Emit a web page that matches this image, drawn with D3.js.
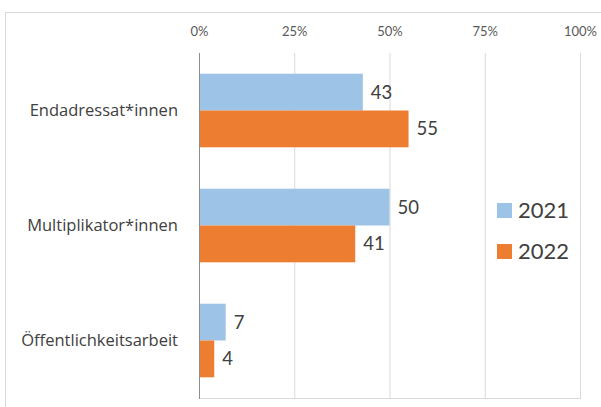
<!DOCTYPE html>
<html>
<head>
<meta charset="utf-8">
<script src="https://cdn.jsdelivr.net/npm/d3@7"></script>
<style>
  body { margin: 0; background: #fff; }
  svg { display: block; font-family: Lato, "Open Sans", sans-serif; }
</style>
</head>
<body>
<svg id="chart" width="601" height="407"></svg>
<script>
// data
var categories = ["Endadressat*innen", "Multiplikator*innen", "Öffentlichkeitsarbeit"];
var years = ["2021", "2022"];
var values2021 = [43, 50, 7];
var values2022 = [55, 41, 4];
var ticks = [0, 25, 50, 75, 100];
var colors = ["#9dc3e6", "#ed7d31"];

var svg = d3.select("#chart");

// chart frame
svg.append("rect")
  .attr("x", 5.5).attr("y", 12.5)
  .attr("width", 610).attr("height", 420)
  .attr("fill", "#fff")
  .attr("stroke", "#d9d9d9");

var plotLeft = 199, plotRight = 580, plotTop = 53, plotBottom = 398;

var x = d3.scaleLinear().domain([0, 100]).range([plotLeft, plotRight]);
var y = d3.scaleBand().domain(categories).range([plotTop, plotBottom]).paddingInner(0.36).paddingOuter(0.18);
var ySub = d3.scaleBand().domain(years).range([0, y.bandwidth()]);

// gridlines
svg.append("g").selectAll("line")
  .data(ticks.slice(1))
  .enter().append("line")
  .attr("x1", d => x(d) + 0.5).attr("x2", d => x(d) + 0.5)
  .attr("y1", plotTop).attr("y2", plotBottom)
  .attr("stroke", "#d9d9d9");

svg.append("line")
  .attr("x1", plotLeft).attr("x2", plotRight + 1)
  .attr("y1", plotBottom + 0.5).attr("y2", plotBottom + 0.5)
  .attr("stroke", "#d9d9d9");

// top axis labels
var xAxis = d3.axisTop(x).tickValues(ticks).tickFormat(d => d + "%").tickSize(0).tickPadding(0);
var ax = svg.append("g").attr("transform", "translate(0,36)").call(xAxis);
ax.select(".domain").remove();
ax.selectAll("text").attr("font-size", 13).attr("fill", "#595959").attr("font-family", "Lato, sans-serif");

// bars
var series = [values2021, values2022];
var groups = svg.append("g").selectAll("g")
  .data(categories)
  .enter().append("g")
  .attr("transform", d => "translate(0," + y(d) + ")");

years.forEach(function(yr, s) {
  groups.append("rect")
    .attr("x", x(0))
    .attr("y", ySub(yr))
    .attr("width", (d, i) => x(series[s][i]) - x(0))
    .attr("height", ySub.bandwidth())
    .attr("fill", colors[s]);

  groups.append("text")
    .attr("x", (d, i) => x(series[s][i]) + 8)
    .attr("y", ySub(yr) + ySub.bandwidth() / 2)
    .attr("dy", "0.35em")
    .attr("font-size", 18.5)
    .attr("fill", "#404040")
    .text((d, i) => series[s][i]);
});

// category axis line
svg.append("line")
  .attr("x1", plotLeft + 0.5).attr("x2", plotLeft + 0.5)
  .attr("y1", plotTop).attr("y2", plotBottom + 1)
  .attr("stroke", "#8c8c8c");

// category labels
svg.append("g").selectAll("text")
  .data(categories)
  .enter().append("text")
  .attr("x", 178)
  .attr("y", d => y(d) + y.bandwidth() / 2)
  .attr("dy", "0.35em")
  .attr("text-anchor", "end")
  .attr("font-size", 16.5)
  .attr("font-family", "'Open Sans', sans-serif")
  .attr("fill", "#404040")
  .text(d => d);

// legend
var legend = svg.append("g");
legend.append("rect")
  .attr("x", 488).attr("y", 190)
  .attr("width", 86).attr("height", 84)
  .attr("fill", "#fff");
years.forEach(function(yr, i) {
  legend.append("rect")
    .attr("x", 497).attr("y", 203 + i * 41)
    .attr("width", 15).attr("height", 15)
    .attr("fill", colors[i]);
  legend.append("text")
    .attr("x", 518).attr("y", 210 + i * 41)
    .attr("dy", "0.35em")
    .attr("font-size", 22)
    .attr("fill", "#404040")
    .text(yr);
});
</script>
</body>
</html>
